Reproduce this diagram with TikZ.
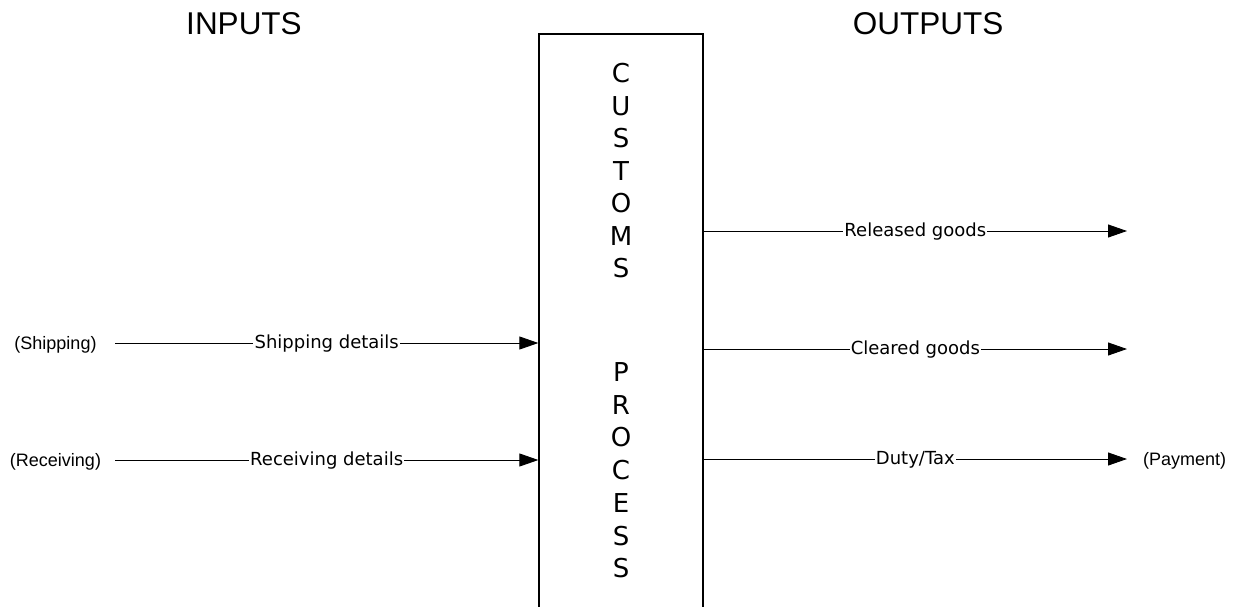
\documentclass[tikz,border=0pt]{standalone}
\usepackage{fontspec}
\setmainfont{DejaVu Sans}
\newfontfamily\arial{Liberation Sans}
\usetikzlibrary{arrows.meta}
\begin{document}
\begin{tikzpicture}[x=1pt,y=-1pt,
  flow/.style={draw=black,line width=0.9pt,-{Triangle[length=19pt,width=13pt]}},
  lbl/.style={font=\fontsize{18}{22}\selectfont,fill=white,inner sep=1.2pt,anchor=base,yshift=-5.8pt},
  ext/.style={font=\arial\fontsize{18}{22}\selectfont,inner sep=0pt,anchor=base},
  head/.style={font=\arial\fontsize{31.5}{36}\selectfont,inner sep=0pt,anchor=base},
  letter/.style={font=\fontsize{26}{30}\selectfont,inner sep=0pt,anchor=base},
  procbox/.style={draw=black,line width=1.3pt,fill=white,minimum width=164pt,minimum height=640pt,inner sep=0pt}]
\useasboundingbox (0,0) rectangle (1240,606);
\clip (0,0) rectangle (1240,606);
\fill[white] (0,0) rectangle (1240,606);
% headings
\node[head] (inputs) at (244,34.5) {INPUTS};
\node[head] (outputs) at (928,34.5) {OUTPUTS};
% process box
\node[procbox] (proc) at (621,354) {};
\foreach \ch [count=\i from 0] in {C,U,S,T,O,M,S}
  \node[letter] (c\i) at (621,{82.5+32.5*\i}) {\ch};
\foreach \ch [count=\i from 0] in {P,R,O,C,E,S,S}
  \node[letter] (p\i) at (621,{381.5+32.7*\i}) {\ch};
% inputs
\node[ext] (ship) at (55.5,349) {(Shipping)};
\node[ext] (recv) at (55.5,466) {(Receiving)};
\coordinate (shipS) at (115,343);
\coordinate (recvS) at (115,460);
\draw[flow] (shipS) -- node[lbl]{Shipping details} (shipS -| proc.west);
\draw[flow] (recvS) -- node[lbl]{Receiving details} (recvS -| proc.west);
% outputs
\coordinate (relE) at (1127,231);
\coordinate (clrE) at (1127,349);
\coordinate (dutE) at (1127,459);
\draw[flow] (relE -| proc.east) -- node[lbl]{Released goods} (relE);
\draw[flow] (clrE -| proc.east) -- node[lbl]{Cleared goods} (clrE);
\draw[flow] (dutE -| proc.east) -- node[lbl]{Duty/Tax} (dutE);
\node[ext,anchor=base west] (pay) at (1143,465) {(Payment)};
\end{tikzpicture}
\end{document}
